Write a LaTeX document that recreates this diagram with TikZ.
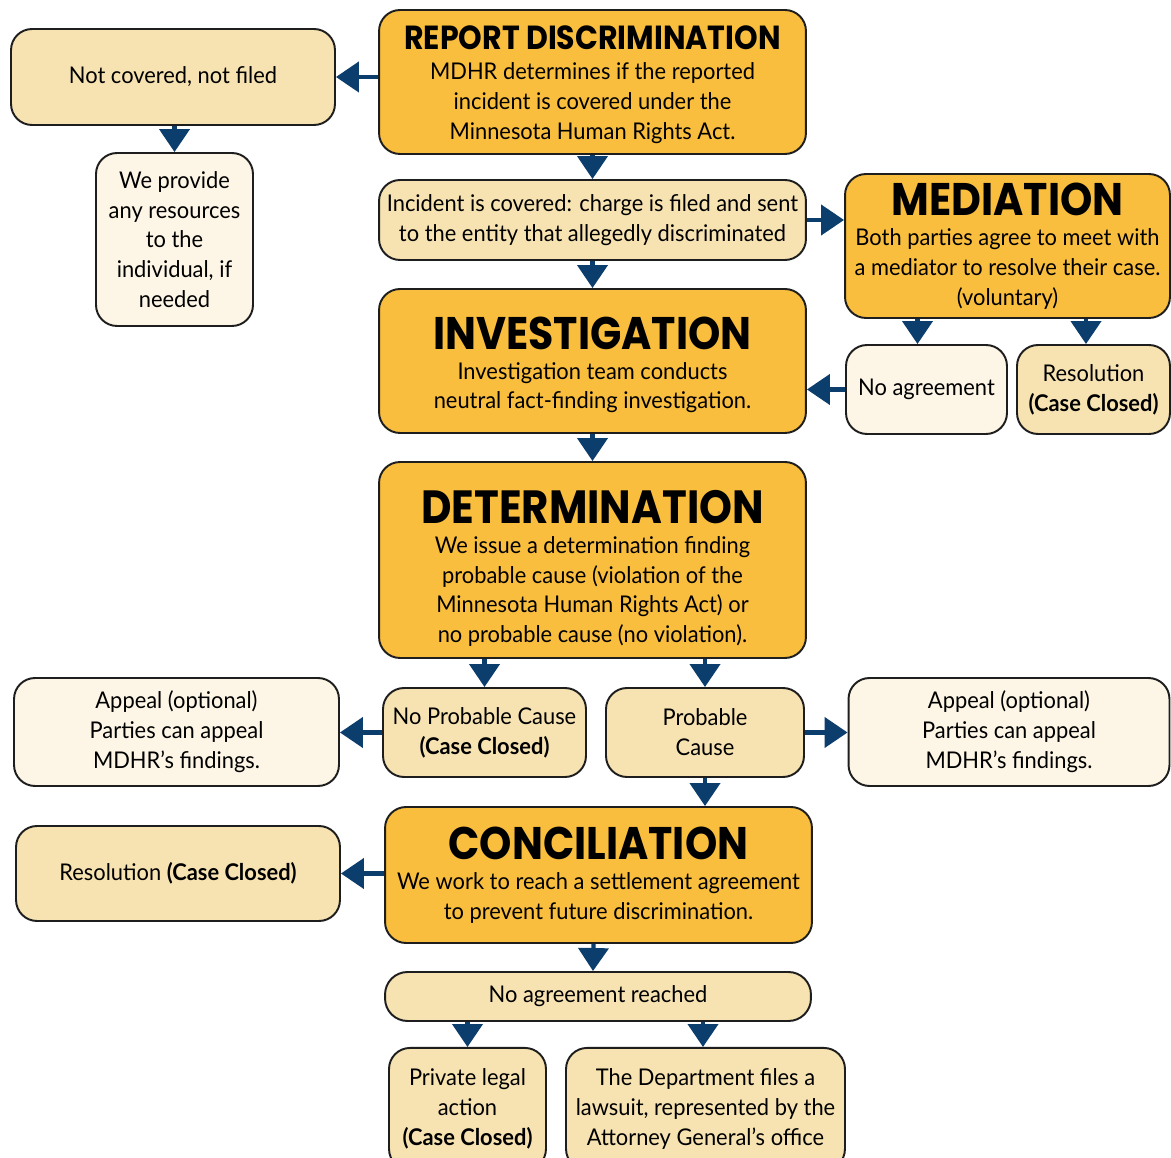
\documentclass[tikz,border=0pt]{standalone}
\usepackage{fontspec}
\setmainfont{Lato}[FakeStretch=0.95]
\newfontfamily\titlefont{Poppins}[FakeStretch=0.9]
\usetikzlibrary{arrows.meta,positioning}

\definecolor{stageorange}{HTML}{F9BE3E}
\definecolor{stagetan}{HTML}{F7E3B2}
\definecolor{stagecream}{HTML}{FDF6E6}
\definecolor{arrownavy}{HTML}{0B3D6D}
\definecolor{boxline}{HTML}{1E1E1E}

\tikzset{
  box/.style={draw=boxline, line width=1.1pt, rounded corners=0.42cm, align=center,
              inner sep=0pt, font=\fontsize{13.1}{17}\selectfont},
  stage/.style={box, fill=stageorange},
  tanbox/.style={box, fill=stagetan},
  creambox/.style={box, fill=stagecream},
  flow/.style={draw=arrownavy, line width=2.4pt, -{Triangle[width=0.6cm,length=0.46cm]}}
}
\newcommand\stagetitle[2]{{\titlefont\bfseries\fontsize{#1}{#1}\selectfont #2}}
\newcommand\headstrut[1]{\rule{0pt}{#1}}

\begin{document}
\begin{tikzpicture}[x=0.02cm,y=-0.02cm]
\useasboundingbox (0,0) rectangle (1171,1158);
\fill[white] (0,0) rectangle (1171,1158);
\clip (0,0) rectangle (1171,1158);

% main stages
\node[stage, minimum width=8.54cm, minimum height=2.88cm] (report) at (592.5,82)
  {\headstrut{16.7pt}\stagetitle{19}{REPORT DISCRIMINATION}\\[0pt]
   MDHR determines if the reported\\ incident is covered under the\\ Minnesota Human Rights Act.};
\node[tanbox, minimum width=8.54cm, minimum height=1.6cm] (incident) at (592.5,220)
  {Incident is covered: charge is filed and sent\\ to the entity that allegedly discriminated};
\node[stage, minimum width=8.54cm, minimum height=2.88cm] (invest) at (592.5,361)
  {\headstrut{23pt}\stagetitle{26}{INVESTIGATION}\\[0pt]
   Investigation team conducts\\ neutral fact-finding investigation.};
\node[stage, minimum width=8.54cm, minimum height=3.92cm] (determ) at (592.5,560)
  {\headstrut{28.5pt}\stagetitle{26.5}{DETERMINATION}\\[0pt]
   We issue a determination finding\\ probable cause (violation of the\\
   Minnesota Human Rights Act) or\\ no probable cause (no violation).};
\node[stage, minimum width=8.54cm, minimum height=2.72cm] (concil) at (598.5,875)
  {\stagetitle{26}{CONCILIATION}\\[0pt]
   We work to reach a settlement agreement\\ to prevent future discrimination.};

% left side
\node[tanbox, minimum width=6.48cm, minimum height=1.92cm] (notcov) at (173,77)
  {Not covered, not filed};
\node[creambox, minimum width=3.14cm, minimum height=3.46cm] (provide) at (174.5,239.5)
  {We provide\\ any resources\\ to the\\ individual, if\\ needed};

% mediation branch
\node[stage, minimum width=6.5cm, minimum height=2.88cm] (mediation) at (1007.5,246)
  {\stagetitle{26}{MEDIATION}\\[0pt]
   Both parties agree to meet with\\ a mediator to resolve their case.\\ (voluntary)};
\node[creambox, minimum width=3.22cm, minimum height=1.78cm] (noagree) at (926.5,389.5)
  {No agreement};
\node[tanbox, minimum width=3.06cm, minimum height=1.78cm] (medresol) at (1093.5,389.5)
  {Resolution\\ \textbf{(Case Closed)}};

% determination outcomes
\node[tanbox, minimum width=4.06cm, minimum height=1.78cm] (noprob) at (484.5,732.5)
  {No Probable Cause\\ \textbf{(Case Closed)}};
\node[tanbox, minimum width=3.96cm, minimum height=1.78cm] (prob) at (705,732.5)
  {Probable\\ Cause};
\node[creambox, minimum width=6.5cm, minimum height=2.16cm] (appealL) at (176.5,732)
  {Appeal (optional)\\ Parties can appeal\\ MDHR's findings.};
\node[creambox, minimum width=6.42cm, minimum height=2.16cm] (appealR) at (1009,732)
  {Appeal (optional)\\ Parties can appeal\\ MDHR's findings.};

% conciliation outcomes
\node[tanbox, minimum width=6.48cm, minimum height=1.9cm] (conresol) at (178,873.5)
  {Resolution \textbf{(Case Closed)}};
\node[tanbox, minimum width=8.52cm, minimum height=0.98cm, rounded corners=0.45cm] (noreach) at (598,996.5)
  {No agreement reached};
\node[tanbox, minimum width=3.14cm, minimum height=2.44cm, anchor=north] (private) at (467.5,1047)
  {Private legal\\ action\\ \textbf{(Case Closed)}};
\node[tanbox, minimum width=5.58cm, minimum height=2.44cm, anchor=north] (lawsuit) at (705.5,1047)
  {The Department files a\\ lawsuit, represented by the\\ Attorney General's office};

% connectors
\draw[flow] (report.west |- notcov.east) -- (notcov.east);
\draw[flow] (notcov.south -| provide.north) -- (provide.north);
\draw[flow] (report.south) -- (incident.north);
\draw[flow] (incident.east) -- (mediation.west |- incident.east);
\draw[flow] (incident.south) -- (invest.north);
\draw[flow] ([xshift=-0.18cm]noagree.north |- mediation.south) -- ([xshift=-0.18cm]noagree.north);
\draw[flow] ([xshift=-0.15cm]medresol.north |- mediation.south) -- ([xshift=-0.15cm]medresol.north);
\draw[flow] (noagree.west) -- (invest.east |- noagree.west);
\draw[flow] (invest.south) -- (determ.north);
\draw[flow] (noprob.north |- determ.south) -- (noprob.north);
\draw[flow] (prob.north |- determ.south) -- (prob.north);
\draw[flow] (noprob.west) -- (appealL.east |- noprob.west);
\draw[flow] (prob.east) -- (appealR.west |- prob.east);
\draw[flow] (prob.south) -- (prob.south |- concil.north);
\draw[flow] (concil.west |- conresol.east) -- (conresol.east);
\draw[flow] ([xshift=-0.1cm]concil.south) -- ([xshift=-0.1cm]noreach.north);
\draw[flow] (private.north |- noreach.south) -- (private.north);
\draw[flow] ([xshift=-0.05cm]lawsuit.north |- noreach.south) -- ([xshift=-0.05cm]lawsuit.north);
\end{tikzpicture}
\end{document}
